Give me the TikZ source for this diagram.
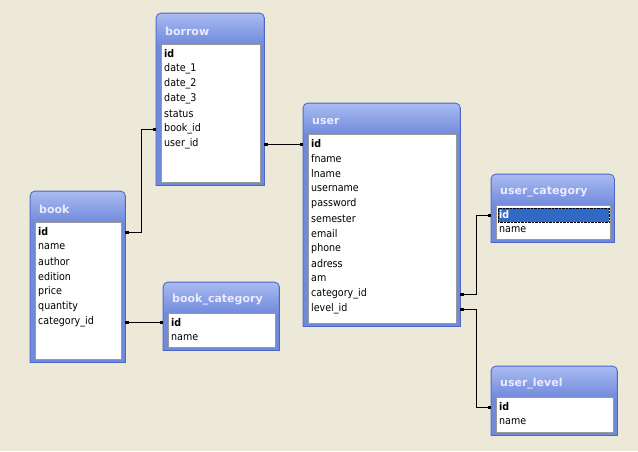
\documentclass[tikz,border=0pt]{standalone}
\usepackage{fontspec}
\setmainfont{DejaVu Sans}
\newfontfamily\rowfont{DejaVu Sans Condensed}
\usetikzlibrary{arrows.meta,calc}
\definecolor{desk}{HTML}{ECE9D8}
\definecolor{framebody}{HTML}{6F89DB}
\definecolor{frameedge}{HTML}{4E66C4}
\definecolor{titletop}{HTML}{A8BAF0}
\definecolor{titlebot}{HTML}{728BDC}
\definecolor{selblue}{HTML}{316AC5}
\tikzset{
  tablebox/.style={draw=none, inner sep=0pt, anchor=north west},
  tframe/.style={fill=framebody, draw=frameedge, line width=0.8pt},
  titlebar/.style={top color=titletop, bottom color=titlebot},
  listbox/.style={fill=white, draw=gray!80, line width=0.6pt},
  ttitle/.style={anchor=west, inner sep=0pt, text=white!92!blue, font=\bfseries\fontsize{11}{13}\selectfont},
  rowtext/.style={anchor=west, inner sep=1pt, font=\rowfont\fontsize{10.6}{12}\selectfont},
  idrow/.style={rowtext, font=\rowfont\bfseries\fontsize{10.6}{12}\selectfont},
  selrow/.style={idrow, fill=selblue, text=white, draw=black, densely dotted, text width=109pt, minimum height=14pt},
  link/.style={{Square[length=3pt,width=3pt]}-{Square[length=3pt,width=3pt]}, line width=0.8pt}
}
% [first row style]{name}{x}{y}{width}{height}{title}{rows}
\newcommand\dbtable[8][idrow]{%
  \node[tablebox, minimum width=#5pt, minimum height=#6pt] (#2) at (#3,#4) {};
  \draw[tframe] (#2.south west) [rounded corners=5pt] -- (#2.north west) -- (#2.north east) [sharp corners] -- (#2.south east) -- cycle;
  \shade[titlebar] ($(#2.north west)+(0.8,31)$) [rounded corners=4pt] -- ($(#2.north west)+(0.8,0.8)$) -- ($(#2.north east)+(-0.8,0.8)$) [sharp corners] -- ($(#2.north east)+(-0.8,31)$) -- cycle;
  \draw[listbox] ($(#2.north west)+(5,31)$) rectangle ($(#2.south east)+(-4,-3)$);
  \node[ttitle] (#2-title) at ($(#2.north west)+(9,18)$) {#7};
  \foreach \r [count=\i] in {#8}{
    \ifnum\i=1 \node[#1] (#2-\i) at ($(#2.north west)+(7,{26+15*\i})$) {\r};
    \else \node[rowtext] (#2-\i) at ($(#2.north west)+(7,{26+15*\i})$) {\r};\fi
  }%
}
\begin{document}
\begin{tikzpicture}[x=1pt,y=-1pt]
  \useasboundingbox (0,0) rectangle (638,451);
  \fill[desk] (0,0) rectangle (638,451);

  \dbtable{borrow}{156}{13}{108}{172}{borrow}{id,date\_1,date\_2,date\_3,status,book\_id,user\_id}
  \dbtable{user}{303}{103}{157}{223}{user}{id,fname,lname,username,password,semester,email,phone,adress,am,category\_id,level\_id}
  \dbtable{book}{30}{191}{95}{171}{book}{id,name,author,edition,price,quantity,category\_id}
  \dbtable{bookcat}{163}{282}{116}{68}{book\_category}{id,name}
  \dbtable[selrow]{usercat}{491}{174}{123}{68}{user\_category}{id,name}
  \dbtable{userlvl}{491}{366}{126}{69}{user\_level}{id,name}

  % relations
  \draw[link] (book.east |- book-1) -- ++(16,0) |- (borrow.west |- borrow-6);
  \draw[link] (borrow.east |- user-1) -- (user.west |- user-1);
  \draw[link] (book.east |- book-7) -- (bookcat.west |- book-7);
  \draw[link] (user.east |- user-11) -- ++(16,0) |- (usercat.west |- usercat-1);
  \draw[link] (user.east |- user-12) -- ++(16,0) |- (userlvl.west |- userlvl-1);
\end{tikzpicture}
\end{document}
